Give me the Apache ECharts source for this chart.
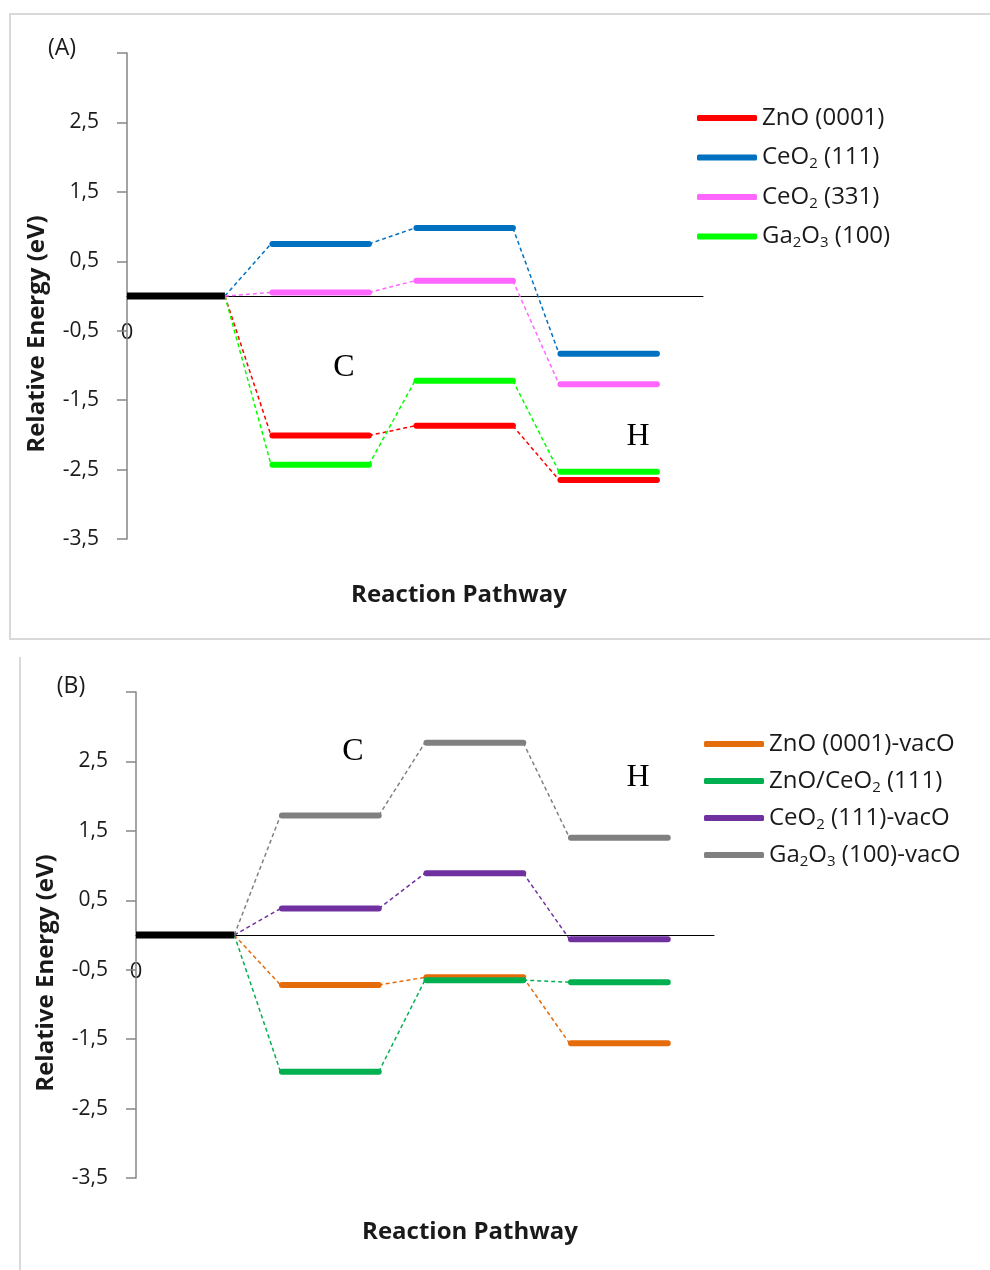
<!DOCTYPE html>
<html>
<head>
<meta charset="utf-8">
<script src="https://cdn.jsdelivr.net/npm/echarts@6/dist/echarts.min.js"></script>
<style>
html,body{margin:0;padding:0;background:#fff;}
#chart{width:990px;height:1270px;}
</style>
</head>
<body>
<div id="chart"></div>
<script>
// ---------- data ----------
const stepsA = [0, 1, 2, 3];           // reaction steps (0 = reference level)
const namesA = ['ZnO (0001)', 'CeO2 (111)', 'CeO2 (331)', 'Ga2O3 (100)'];
const zno0001   = [-2.01, -1.87, -2.65];
const ceo2_111  = [0.75, 0.98, -0.83];
const ceo2_331  = [0.05, 0.22, -1.27];
const ga2o3_100 = [-2.43, -1.22, -2.53];
const valuesA = [zno0001, ceo2_111, ceo2_331, ga2o3_100];

const namesB = ['ZnO (0001)-vacO', 'ZnO/CeO2 (111)', 'CeO2 (111)-vacO', 'Ga2O3 (100)-vacO'];
const zno0001_vac  = [-0.72, -0.61, -1.56];
const zno_ceo2_111 = [-1.97, -0.65, -0.68];
const ceo2_111_vac = [0.38, 0.89, -0.06];
const ga2o3_vac    = [1.72, 2.77, 1.40];
const valuesB = [zno0001_vac, zno_ceo2_111, ceo2_111_vac, ga2o3_vac];

const yTicks  = [-3.5, -2.5, -1.5, -0.5, 0.5, 1.5, 2.5, 3.5];
const yLabels = [-3.5, -2.5, -1.5, -0.5, 0.5, 1.5, 2.5];
const refValue = 0;

// ---------- styles ----------
const colorsA = ['#FF0000', '#0070C0', '#FF66FF', '#00FF00'];
const colorsB = ['#E46C0A', '#00B050', '#7030A0', '#808080'];
const LEVEL_W = 0.68;
const FONT = 'Open Sans';
const TXT = '#1a1a1a';

function levelSeries(names, values, colors, gi) {
  const out = [];
  out.push({
    type: 'line', name: 'ref' + gi, xAxisIndex: gi, yAxisIndex: gi,
    data: [[stepsA[0], refValue], [stepsA[0] + LEVEL_W, refValue]],
    showSymbol: false, symbol: 'none', silent: true, z: 4,
    lineStyle: { color: '#000', width: 7, cap: 'butt' }, itemStyle: { color: '#000' }
  });
  names.forEach((name, k) => {
    const vals = [refValue].concat(values[k]);
    const lv = [], ds = [];
    for (let i = 1; i < stepsA.length; i++) {
      lv.push([stepsA[i] + 0.01, vals[i]], [stepsA[i] + LEVEL_W, vals[i]], [stepsA[i] + LEVEL_W + 0.05, '-']);
    }
    for (let i = 0; i < stepsA.length - 1; i++) {
      ds.push([stepsA[i] + LEVEL_W, vals[i]], [stepsA[i + 1], vals[i + 1]], [stepsA[i + 1] + 0.05, '-']);
    }
    out.push({
      type: 'line', name: name + ' path', xAxisIndex: gi, yAxisIndex: gi,
      data: ds, connectNulls: false, showSymbol: false, symbol: 'none', z: 2,
      lineStyle: { color: colors[k], width: 1.5, type: [4, 3] }, itemStyle: { color: colors[k] }
    });
    out.push({
      type: 'line', name: name, xAxisIndex: gi, yAxisIndex: gi,
      data: lv, connectNulls: false, showSymbol: false, symbol: 'none', z: 3 + k * 0.01,
      lineStyle: { color: colors[k], width: 6, cap: 'round' }, itemStyle: { color: colors[k] }
    });
  });
  return out;
}

function fmtChem(n) { return n.replace(/([A-Za-z])(\d)/g, '$1{sub|$2}'); }

function yAxisDef(gi) {
  return {
    type: 'value', gridIndex: gi, min: -3.5, max: 3.5,
    splitLine: { show: false },
    axisLine: { show: true, onZero: false, lineStyle: { color: '#868686', width: 1.5 } },
    axisTick: { show: true, inside: false, length: 10, customValues: yTicks, lineStyle: { color: '#868686', width: 1.5 } },
    axisLabel: {
      customValues: yLabels, margin: 28, color: TXT, fontFamily: FONT, fontSize: 21,
      formatter: v => String(v).replace('.', ',')
    }
  };
}
function xAxisDef(gi) {
  return {
    type: 'value', gridIndex: gi, min: 0, max: 4, interval: 1,
    splitLine: { show: false },
    axisLine: { show: true, onZero: true, lineStyle: { color: '#000', width: 1 } },
    axisTick: { show: false },
    axisLabel: { show: false }
  };
}
function legendDef(names, left, top, gap) {
  return {
    orient: 'vertical', left: left, top: top, data: names, icon: 'roundRect', padding: 0,
    itemWidth: 60, itemHeight: 6, itemGap: gap, selectedMode: false,
    formatter: fmtChem,
    textStyle: {
      fontFamily: FONT, fontSize: 24, color: TXT, lineHeight: 28, padding: [0, 0, 0, 0],
      rich: { sub: { fontFamily: FONT, fontSize: 15, color: TXT, lineHeight: 14, verticalAlign: 'bottom' } }
    }
  };
}
function txt(str, x, y, opts, rot) {
  return { type: 'text', x: x, y: y, rotation: rot || 0, silent: true, style: Object.assign({
    text: str, fill: TXT, font: '23px "Open Sans"', textAlign: 'center', textVerticalAlign: 'middle' }, opts || {}) };
}

const chart = echarts.init(document.getElementById('chart'), null, { renderer: 'canvas' });
chart.setOption({
  backgroundColor: '#fff',
  animation: false,
  grid: [
    { left: 127, top: 53, width: 576, height: 486 },
    { left: 136, top: 692, width: 578, height: 486 }
  ],
  xAxis: [xAxisDef(0), xAxisDef(1)],
  yAxis: [yAxisDef(0), yAxisDef(1)],
  legend: [legendDef(namesA, 697, 104, 11.5), legendDef(namesB, 704, 730, 9)],
  series: levelSeries(namesA, valuesA, colorsA, 0).concat(levelSeries(namesB, valuesB, colorsB, 1)),
  graphic: [
    { type: 'rect', shape: { x: 10, y: 14, width: 1000, height: 625 }, style: { fill: 'none', stroke: '#D9D9D9', lineWidth: 2 }, silent: true },
    { type: 'line', shape: { x1: 20, y1: 657, x2: 20, y2: 1275 }, style: { stroke: '#D9D9D9', lineWidth: 2 }, silent: true },
    txt('(A)', 62, 48),
    txt('(B)', 71, 686),
    txt('0', 127, 333, { font: '22px "Open Sans"' }),
    txt('0', 136, 972, { font: '22px "Open Sans"' }),
    txt('Relative Energy (eV)', 37, 334, { font: 'bold 24px "Open Sans"' }, Math.PI / 2),
    txt('Relative Energy (eV)', 46, 973, { font: 'bold 24px "Open Sans"' }, Math.PI / 2),
    txt('Reaction Pathway', 459, 595, { font: 'bold 24px "Open Sans"' }),
    txt('Reaction Pathway', 470, 1232, { font: 'bold 24px "Open Sans"' }),
    txt('C', 344, 368, { font: '32px "Liberation Serif"', fill: '#000' }),
    txt('H', 638, 437, { font: '32px "Liberation Serif"', fill: '#000' }),
    txt('C', 353, 752, { font: '32px "Liberation Serif"', fill: '#000' }),
    txt('H', 638, 778, { font: '32px "Liberation Serif"', fill: '#000' })
  ]
});
</script>
</body>
</html>
